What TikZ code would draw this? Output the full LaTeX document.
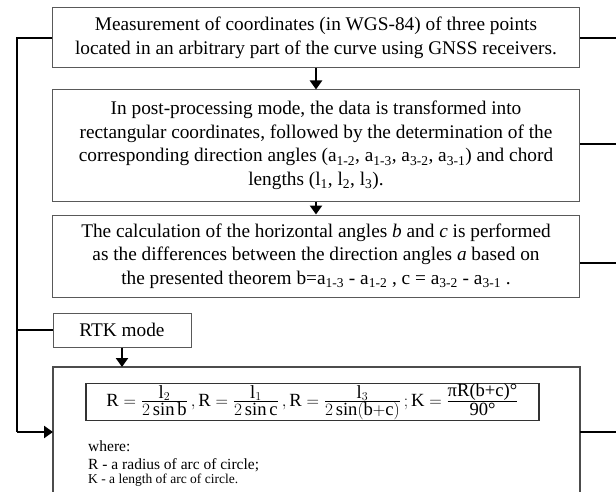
\documentclass[tikz,border=0pt]{standalone}
\usepackage{amsmath}
\usepackage{fontspec}
\setmainfont{Liberation Serif}
\usetikzlibrary{arrows.meta}

\begin{document}
\begin{tikzpicture}[x=1pt,y=-1pt,
    box/.style={draw=black!65,line width=1pt,inner sep=0pt,align=center,
        font=\fontsize{19.3}{23.5}\selectfont},
    link/.style={line width=2.6pt},
    flow/.style={line width=2.6pt,-{Triangle[width=12pt,length=9pt]}},
    note/.style={anchor=west,inner sep=0pt}]
    \useasboundingbox (0,0) rectangle (616,492);

    \coordinate (corner) at (17,38);
    \coordinate (branch) at (17,330);
    \coordinate (foot) at (17,432);
    \coordinate (entry) at (53,432);
    \coordinate (out1) at (616,38);
    \coordinate (out2) at (616,144);
    \coordinate (out3) at (616,263);
    \coordinate (out4) at (616,432);

    \node[box,minimum width=527pt,minimum height=60pt] (measure) at (316,38)
        {Measurement of coordinates (in WGS-84) of three points\\
         located in an arbitrary part of the curve using GNSS receivers.};
    \node[box,minimum width=527pt,minimum height=111pt] (post) at (316,145.5)
        {In post-processing mode, the data is transformed into\\
         rectangular coordinates, followed by the determination of the\\
         corresponding direction angles (a\textsubscript{1-2}, a\textsubscript{1-3}, a\textsubscript{3-2}, a\textsubscript{3-1}) and chord\\
         lengths (l\textsubscript{1}, l\textsubscript{2}, l\textsubscript{3}).};
    \node[box,minimum width=527pt,minimum height=82pt] (angles) at (316,256)
        {The calculation of the horizontal angles \textit{b} and \textit{c} is performed\\
         as the differences between the direction angles \textit{a} based on\\
         the presented theorem b=a\textsubscript{1-3} - a\textsubscript{1-2} , c = a\textsubscript{3-2} - a\textsubscript{3-1} .};
    \node[box,minimum width=138pt,minimum height=34pt] (rtk) at (122,330) {RTK mode};
    % open at the bottom: the frame runs to the page edge
    \draw[draw=black!70,line width=1.2pt] (53,492) |- (580,367) -- (580,492);
    \coordinate (result) at (316,367);
    \coordinate (resultE) at (580,432);

    % formula and its legend
    \node[draw=black!80,line width=1.3pt,minimum width=453pt,minimum height=37pt,inner sep=0.5pt]
        (formula) at (312.5,402)
        {\fontsize{18.6}{22}\selectfont
         $\mathrm{R}=\frac{\textstyle\mathrm{l}_2}{\textstyle 2\sin\mathrm{b}}\,,\mathrm{R}=\frac{\textstyle\mathrm{l}_1}{\textstyle 2\sin\mathrm{c}}\,,
          \mathrm{R}=\frac{\textstyle\mathrm{l}_3}{\textstyle 2\sin(\mathrm{b{+}c})}\,;\mathrm{K}=\frac{\textstyle\text{πR(b+c)°}}{\textstyle\text{90°}}$};
    \node[note,font=\fontsize{15.5}{18}\selectfont] (where) at (88,446) {where:};
    \node[note,font=\fontsize{15.5}{18}\selectfont] (rdef) at (88,465) {R - a radius of arc of circle;};
    \node[note,font=\fontsize{13.5}{16}\selectfont] (kdef) at (88,480) {K - a length of arc of circle.};

    \draw[flow] (measure) -- (post);
    \draw[flow] (post) -- (angles);
    \draw[flow] (rtk) -- (rtk.south |- result);
    \draw[link] (measure.west) -- (corner) -- (foot);
    \draw[flow] (foot) -- (entry);
    \draw[link] (branch) -- (rtk.west);
    \draw[link] (measure.east) -- (out1);
    \draw[link] (post.east |- out2) -- (out2);
    \draw[link] (angles.east |- out3) -- (out3);
    \draw[link] (resultE) -- (out4);
\end{tikzpicture}
\end{document}
